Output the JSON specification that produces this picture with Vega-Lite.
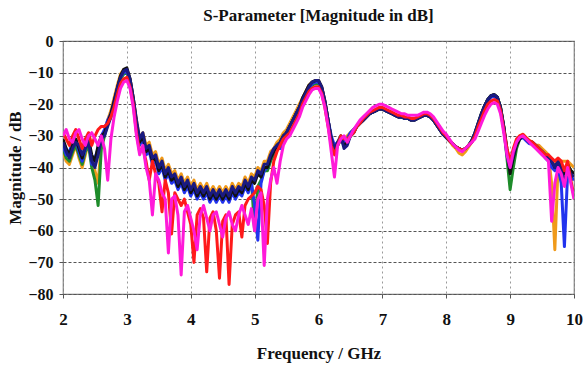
{
"$schema":"https://vega.github.io/schema/vega-lite/v6.json",
"autosize":"none",
"width":511,"height":253,
"padding":{"left":63,"top":41,"right":10,"bottom":76},
"background":"white",
"title":{"text":"S-Parameter [Magnitude in dB]","font":"Liberation Serif","fontSize":17,"fontWeight":"bold","color":"#111","offset":8,"anchor":"middle"},
"config":{"view":{"stroke":"#777","strokeWidth":1.2},"axis":{"labelFont":"Liberation Serif","titleFont":"Liberation Serif","labelFontWeight":"bold","titleFontWeight":"bold","labelColor":"#111","titleColor":"#111","labelFontSize":17,"titleFontSize":17}},
"data":{"values":[
{"f":2.00,"k":-31,"n":-32,"b":-33,"g":-34,"o":-35,"r":-29,"m":-30},
{"f":2.05,"k":-34,"n":-35,"b":-36,"g":-37,"o":-38,"r":-31,"m":-28},
{"f":2.10,"k":-36,"n":-37,"b":-35,"g":-38,"o":-39,"r":-33,"m":-31},
{"f":2.15,"k":-33,"n":-34,"b":-32,"g":-35,"o":-36,"r":-30,"m":-32},
{"f":2.20,"k":-31,"n":-32,"b":-31,"g":-33,"o":-33,"r":-28,"m":-29},
{"f":2.25,"k":-34,"n":-33,"b":-35,"g":-36,"o":-37,"r":-31,"m":-28},
{"f":2.30,"k":-37,"n":-36,"b":-38,"g":-39,"o":-40,"r":-34,"m":-31},
{"f":2.35,"k":-33,"n":-34,"b":-34,"g":-35,"o":-36,"r":-31,"m":-33},
{"f":2.40,"k":-31,"n":-32,"b":-30,"g":-33,"o":-32,"r":-29,"m":-30},
{"f":2.45,"k":-36,"n":-38,"b":-39,"g":-40,"o":-37,"r":-33,"m":-29},
{"f":2.50,"k":-38,"n":-40,"b":-37,"g":-44,"o":-41,"r":-30,"m":-31},
{"f":2.55,"k":-33,"n":-36,"b":-34,"g":-52,"o":-45,"r":-28,"m":-33},
{"f":2.60,"k":-30,"n":-31,"b":-30,"g":-34,"o":-32,"r":-27,"m":-30},
{"f":2.65,"k":-29,"n":-30,"b":-28,"g":-30,"o":-29,"r":-27,"m":-34},
{"f":2.70,"k":-26,"n":-27,"b":-25,"g":-26,"o":-25,"r":-26,"m":-44},
{"f":2.75,"k":-23,"n":-24,"b":-23,"g":-24,"o":-22,"r":-24,"m":-31},
{"f":2.80,"k":-19,"n":-20,"b":-19,"g":-20,"o":-18,"r":-21,"m":-24},
{"f":2.85,"k":-15,"n":-15,"b":-15,"g":-16,"o":-14,"r":-17,"m":-19},
{"f":2.90,"k":-11,"n":-11.5,"b":-11.5,"g":-12,"o":-10.5,"r":-13.5,"m":-15},
{"f":2.95,"k":-9,"n":-9.5,"b":-10,"g":-10.5,"o":-9,"r":-12,"m":-13},
{"f":3.00,"k":-8.5,"n":-9,"b":-9.5,"g":-10,"o":-9,"r":-11.5,"m":-12.5},
{"f":3.05,"k":-12,"n":-12,"b":-13,"g":-13,"o":-12,"r":-14.5,"m":-15},
{"f":3.10,"k":-18,"n":-18,"b":-19,"g":-19,"o":-18,"r":-20,"m":-21},
{"f":3.15,"k":-26,"n":-25,"b":-27,"g":-26,"o":-25,"r":-29,"m":-30},
{"f":3.20,"k":-32,"n":-31,"b":-33,"g":-32,"o":-31,"r":-35,"m":-36},
{"f":3.25,"k":-30,"n":-29,"b":-31,"g":-30,"o":-29,"r":-34,"m":-33},
{"f":3.30,"k":-35,"n":-34,"b":-36,"g":-35,"o":-33,"r":-38,"m":-40},
{"f":3.35,"k":-34,"n":-33,"b":-35,"g":-34,"o":-32,"r":-44,"m":-44},
{"f":3.40,"k":-38,"n":-37,"b":-39,"g":-38,"o":-36,"r":-38,"m":-55},
{"f":3.45,"k":-37,"n":-36,"b":-38,"g":-37,"o":-35,"r":-42,"m":-42},
{"f":3.50,"k":-41,"n":-40,"b":-42,"g":-41,"o":-39,"r":-45,"m":-44},
{"f":3.55,"k":-39,"n":-38,"b":-40,"g":-39,"o":-37,"r":-54,"m":-48},
{"f":3.60,"k":-43,"n":-42,"b":-44,"g":-43,"o":-41,"r":-44,"m":-50},
{"f":3.65,"k":-41,"n":-40,"b":-42,"g":-41,"o":-39,"r":-48,"m":-67},
{"f":3.70,"k":-44,"n":-43,"b":-45,"g":-44,"o":-42,"r":-61,"m":-50},
{"f":3.75,"k":-43,"n":-42,"b":-44,"g":-43,"o":-41,"r":-48,"m":-49},
{"f":3.80,"k":-46,"n":-45,"b":-47,"g":-46,"o":-44,"r":-50,"m":-55},
{"f":3.85,"k":-44,"n":-43,"b":-45,"g":-44,"o":-42,"r":-52,"m":-74},
{"f":3.90,"k":-47,"n":-46,"b":-48,"g":-47,"o":-45,"r":-50,"m":-54},
{"f":3.95,"k":-45,"n":-44,"b":-46,"g":-45,"o":-43,"r":-54,"m":-52},
{"f":4.00,"k":-48,"n":-47,"b":-49,"g":-48,"o":-46,"r":-58,"m":-56},
{"f":4.05,"k":-46,"n":-45,"b":-47,"g":-46,"o":-44,"r":-70,"m":-60},
{"f":4.10,"k":-49,"n":-48,"b":-50,"g":-49,"o":-47,"r":-55,"m":-66},
{"f":4.15,"k":-47,"n":-46,"b":-48,"g":-47,"o":-45,"r":-53,"m":-55},
{"f":4.20,"k":-49,"n":-48,"b":-50,"g":-49,"o":-47,"r":-56,"m":-52},
{"f":4.25,"k":-47,"n":-46,"b":-48,"g":-47,"o":-45,"r":-73,"m":-56},
{"f":4.30,"k":-50,"n":-49,"b":-51,"g":-50,"o":-48,"r":-56,"m":-60},
{"f":4.35,"k":-48,"n":-47,"b":-49,"g":-48,"o":-46,"r":-54,"m":-55},
{"f":4.40,"k":-50,"n":-49,"b":-51,"g":-50,"o":-48,"r":-60,"m":-54},
{"f":4.45,"k":-48,"n":-47,"b":-49,"g":-48,"o":-46,"r":-75,"m":-58},
{"f":4.50,"k":-50,"n":-49,"b":-51,"g":-50,"o":-48,"r":-57,"m":-62},
{"f":4.55,"k":-48,"n":-47,"b":-49,"g":-48,"o":-46,"r":-55,"m":-56},
{"f":4.60,"k":-50,"n":-49,"b":-51,"g":-50,"o":-48,"r":-77,"m":-54},
{"f":4.65,"k":-47,"n":-46,"b":-48,"g":-47,"o":-45,"r":-58,"m":-58},
{"f":4.70,"k":-49,"n":-48,"b":-50,"g":-49,"o":-47,"r":-55,"m":-60},
{"f":4.75,"k":-47,"n":-46,"b":-48,"g":-47,"o":-45,"r":-54,"m":-55},
{"f":4.80,"k":-48,"n":-47,"b":-49,"g":-48,"o":-46,"r":-62,"m":-52},
{"f":4.85,"k":-45,"n":-44,"b":-46,"g":-45,"o":-43,"r":-52,"m":-55},
{"f":4.90,"k":-47,"n":-46,"b":-48,"g":-47,"o":-45,"r":-50,"m":-58},
{"f":4.95,"k":-44,"n":-43,"b":-45,"g":-44,"o":-42,"r":-49,"m":-53},
{"f":5.00,"k":-45,"n":-44,"b":-52,"g":-60,"o":-43,"r":-48,"m":-60},
{"f":5.05,"k":-42,"n":-41,"b":-63,"g":-46,"o":-40,"r":-46,"m":-50},
{"f":5.10,"k":-43,"n":-42,"b":-45,"g":-44,"o":-41,"r":-47,"m":-48},
{"f":5.15,"k":-40,"n":-39,"b":-41,"g":-41,"o":-38,"r":-52,"m":-71},
{"f":5.20,"k":-40,"n":-39,"b":-40,"g":-41,"o":-38,"r":-64,"m":-50},
{"f":5.25,"k":-37,"n":-36,"b":-37,"g":-38,"o":-35,"r":-45,"m":-44},
{"f":5.30,"k":-35,"n":-34,"b":-35,"g":-36,"o":-34,"r":-38,"m":-40},
{"f":5.35,"k":-33,"n":-33,"b":-34,"g":-34,"o":-32,"r":-35,"m":-45},
{"f":5.40,"k":-32,"n":-32,"b":-34,"g":-33,"o":-31,"r":-33,"m":-38},
{"f":5.45,"k":-30,"n":-30,"b":-31,"g":-31,"o":-29,"r":-31,"m":-33},
{"f":5.50,"k":-29,"n":-29,"b":-29,"g":-29,"o":-28,"r":-30,"m":-31},
{"f":5.55,"k":-27,"n":-27,"b":-27,"g":-27,"o":-26,"r":-29,"m":-30},
{"f":5.60,"k":-25,"n":-25,"b":-25,"g":-25,"o":-24,"r":-27,"m":-28},
{"f":5.65,"k":-23,"n":-23,"b":-23,"g":-23,"o":-22,"r":-25,"m":-26},
{"f":5.70,"k":-21,"n":-21,"b":-21,"g":-21,"o":-20,"r":-23,"m":-24},
{"f":5.75,"k":-18,"n":-18.5,"b":-19,"g":-19,"o":-18,"r":-20,"m":-21},
{"f":5.80,"k":-16,"n":-16.5,"b":-17,"g":-17,"o":-16,"r":-18,"m":-19},
{"f":5.85,"k":-14,"n":-14.5,"b":-15,"g":-15,"o":-14,"r":-16,"m":-17},
{"f":5.90,"k":-13,"n":-13,"b":-13.5,"g":-14,"o":-13,"r":-15,"m":-15.5},
{"f":5.95,"k":-12.5,"n":-12.5,"b":-13,"g":-13.5,"o":-12.5,"r":-14.5,"m":-15},
{"f":6.00,"k":-12.5,"n":-12.5,"b":-13,"g":-13.5,"o":-12.5,"r":-14.5,"m":-15},
{"f":6.05,"k":-14.5,"n":-14.5,"b":-15,"g":-15.5,"o":-14.5,"r":-16.5,"m":-17},
{"f":6.10,"k":-19,"n":-19,"b":-19.5,"g":-20,"o":-19,"r":-21,"m":-21},
{"f":6.15,"k":-25,"n":-25,"b":-25,"g":-26,"o":-25,"r":-27,"m":-27},
{"f":6.20,"k":-31,"n":-31,"b":-30,"g":-32,"o":-31,"r":-33,"m":-35},
{"f":6.25,"k":-35,"n":-34,"b":-33,"g":-35,"o":-34,"r":-36,"m":-43},
{"f":6.30,"k":-33,"n":-32,"b":-32,"g":-33,"o":-32,"r":-33,"m":-33},
{"f":6.35,"k":-31,"n":-30,"b":-31,"g":-31,"o":-30,"r":-30,"m":-31},
{"f":6.40,"k":-33,"n":-34,"b":-32,"g":-32,"o":-31,"r":-31,"m":-30},
{"f":6.45,"k":-32,"n":-33,"b":-31,"g":-31,"o":-30,"r":-31,"m":-32},
{"f":6.50,"k":-30,"n":-30,"b":-29,"g":-29,"o":-29,"r":-30,"m":-30},
{"f":6.55,"k":-29,"n":-29,"b":-28,"g":-28,"o":-28,"r":-29,"m":-28},
{"f":6.60,"k":-27,"n":-27,"b":-27,"g":-27,"o":-27,"r":-27,"m":-26.5},
{"f":6.65,"k":-26,"n":-26,"b":-26,"g":-26,"o":-26,"r":-26,"m":-25},
{"f":6.70,"k":-25,"n":-25,"b":-25,"g":-25,"o":-25,"r":-24.5,"m":-24},
{"f":6.75,"k":-24,"n":-24,"b":-24,"g":-24,"o":-24,"r":-23.5,"m":-23},
{"f":6.80,"k":-23,"n":-23,"b":-23,"g":-23,"o":-23,"r":-22.5,"m":-22},
{"f":6.85,"k":-22.5,"n":-22.5,"b":-22.5,"g":-22.5,"o":-22.5,"r":-22,"m":-21},
{"f":6.90,"k":-22,"n":-22,"b":-22,"g":-22,"o":-22,"r":-21.5,"m":-20.5},
{"f":6.95,"k":-21.5,"n":-21.5,"b":-21.5,"g":-21.5,"o":-21.5,"r":-21,"m":-20},
{"f":7.00,"k":-21.5,"n":-21.5,"b":-21.5,"g":-21.5,"o":-21.5,"r":-21,"m":-20},
{"f":7.05,"k":-22,"n":-22,"b":-22,"g":-22,"o":-22,"r":-21.5,"m":-20.5},
{"f":7.10,"k":-22.5,"n":-22.5,"b":-22.5,"g":-22.5,"o":-22.5,"r":-22,"m":-21},
{"f":7.15,"k":-23,"n":-23,"b":-23,"g":-23,"o":-23,"r":-22.5,"m":-21.5},
{"f":7.20,"k":-23.5,"n":-23.5,"b":-23.5,"g":-23.5,"o":-23.5,"r":-23,"m":-22},
{"f":7.25,"k":-24,"n":-24,"b":-24,"g":-24,"o":-24,"r":-23.5,"m":-22.5},
{"f":7.30,"k":-24,"n":-24,"b":-24,"g":-24,"o":-24,"r":-23.5,"m":-23},
{"f":7.35,"k":-24.5,"n":-24.5,"b":-24.5,"g":-24.5,"o":-24.5,"r":-24,"m":-23},
{"f":7.40,"k":-24.5,"n":-24.5,"b":-24.5,"g":-24.5,"o":-24.5,"r":-24,"m":-23.5},
{"f":7.45,"k":-25,"n":-25,"b":-25,"g":-25,"o":-25,"r":-24.5,"m":-23.5},
{"f":7.50,"k":-25,"n":-25,"b":-25,"g":-25,"o":-25,"r":-24.5,"m":-23.5},
{"f":7.55,"k":-24.5,"n":-24.5,"b":-24.5,"g":-24.5,"o":-24.5,"r":-24,"m":-23.5},
{"f":7.60,"k":-24,"n":-24,"b":-24,"g":-24,"o":-24,"r":-23.5,"m":-23},
{"f":7.65,"k":-23.5,"n":-23.5,"b":-23.5,"g":-23.5,"o":-23.5,"r":-23,"m":-22.5},
{"f":7.70,"k":-23.5,"n":-23.5,"b":-23.5,"g":-23.5,"o":-23.5,"r":-23,"m":-22.5},
{"f":7.75,"k":-24,"n":-24,"b":-24,"g":-24,"o":-24,"r":-23.5,"m":-23},
{"f":7.80,"k":-25,"n":-25,"b":-25,"g":-25,"o":-25,"r":-24.5,"m":-24},
{"f":7.85,"k":-26.5,"n":-26.5,"b":-26.5,"g":-26.5,"o":-26.5,"r":-26,"m":-25.5},
{"f":7.90,"k":-28,"n":-28,"b":-28,"g":-28,"o":-28,"r":-27.5,"m":-27},
{"f":7.95,"k":-29.5,"n":-29.5,"b":-29.5,"g":-29.5,"o":-29.5,"r":-29,"m":-28.5},
{"f":8.00,"k":-30.5,"n":-30.5,"b":-30.5,"g":-30.5,"o":-30.5,"r":-30,"m":-29.5},
{"f":8.05,"k":-31.5,"n":-31.5,"b":-31.5,"g":-31.5,"o":-31.5,"r":-31.5,"m":-31},
{"f":8.10,"k":-32.5,"n":-32.5,"b":-32.5,"g":-32.5,"o":-33,"r":-32.5,"m":-32.5},
{"f":8.15,"k":-33.5,"n":-33.5,"b":-33.5,"g":-33.5,"o":-34,"r":-33.5,"m":-33.5},
{"f":8.20,"k":-34,"n":-34,"b":-34,"g":-34,"o":-35.5,"r":-34,"m":-34.5},
{"f":8.25,"k":-34.5,"n":-34.5,"b":-34.5,"g":-34.5,"o":-36,"r":-34.5,"m":-35},
{"f":8.30,"k":-34,"n":-34,"b":-34,"g":-34,"o":-35,"r":-34,"m":-34},
{"f":8.35,"k":-33,"n":-33,"b":-33,"g":-33,"o":-33.5,"r":-33,"m":-33},
{"f":8.40,"k":-31.5,"n":-31.5,"b":-32,"g":-31.5,"o":-32,"r":-32,"m":-32},
{"f":8.45,"k":-29,"n":-29,"b":-29.5,"g":-29,"o":-29.5,"r":-30,"m":-31},
{"f":8.50,"k":-26,"n":-26,"b":-26.5,"g":-26,"o":-26.5,"r":-27,"m":-28.5},
{"f":8.55,"k":-23,"n":-23,"b":-23.5,"g":-23,"o":-23.5,"r":-24.5,"m":-26},
{"f":8.60,"k":-20.5,"n":-20.5,"b":-21,"g":-20.5,"o":-20.5,"r":-22,"m":-23.5},
{"f":8.65,"k":-18.5,"n":-18.5,"b":-19,"g":-18.5,"o":-18.5,"r":-20,"m":-21.5},
{"f":8.70,"k":-17.3,"n":-17.3,"b":-17.8,"g":-17.3,"o":-17.3,"r":-19,"m":-20},
{"f":8.75,"k":-17,"n":-17,"b":-17.5,"g":-17,"o":-17,"r":-18.5,"m":-19.5},
{"f":8.80,"k":-17.8,"n":-17.8,"b":-18.3,"g":-17.8,"o":-17.8,"r":-19,"m":-20},
{"f":8.85,"k":-21,"n":-21,"b":-21.5,"g":-21,"o":-21,"r":-22,"m":-23},
{"f":8.90,"k":-27,"n":-27,"b":-27.5,"g":-27,"o":-27,"r":-28,"m":-29},
{"f":8.95,"k":-35,"n":-34,"b":-36,"g":-37,"o":-34,"r":-34,"m":-36},
{"f":9.00,"k":-42,"n":-40,"b":-41,"g":-47,"o":-39,"r":-38,"m":-40},
{"f":9.05,"k":-37,"n":-36,"b":-36,"g":-40,"o":-35,"r":-34,"m":-35},
{"f":9.10,"k":-33,"n":-32,"b":-32,"g":-34,"o":-32,"r":-31,"m":-32},
{"f":9.15,"k":-31,"n":-30.5,"b":-31,"g":-31,"o":-30,"r":-30,"m":-30.5},
{"f":9.20,"k":-30,"n":-30,"b":-30.5,"g":-30,"o":-29.5,"r":-29.5,"m":-30},
{"f":9.25,"k":-31,"n":-31,"b":-31.5,"g":-31,"o":-30.5,"r":-30.5,"m":-31},
{"f":9.30,"k":-32,"n":-32,"b":-32.5,"g":-32,"o":-31.5,"r":-31.5,"m":-32},
{"f":9.35,"k":-32,"n":-32,"b":-32.5,"g":-32,"o":-32,"r":-32,"m":-33},
{"f":9.40,"k":-33,"n":-33,"b":-33.5,"g":-33,"o":-33,"r":-33,"m":-34},
{"f":9.45,"k":-34,"n":-34,"b":-34.5,"g":-34,"o":-33,"r":-34,"m":-35},
{"f":9.50,"k":-35,"n":-35,"b":-35.5,"g":-35,"o":-34,"r":-35,"m":-36},
{"f":9.55,"k":-36,"n":-36,"b":-37,"g":-36,"o":-35,"r":-36,"m":-37},
{"f":9.60,"k":-37,"n":-37,"b":-38,"g":-37,"o":-36,"r":-36,"m":-38},
{"f":9.65,"k":-38,"n":-38,"b":-40,"g":-38,"o":-45,"r":-37,"m":-57},
{"f":9.70,"k":-40,"n":-40,"b":-41,"g":-40,"o":-66,"r":-38,"m":-45},
{"f":9.75,"k":-38,"n":-38,"b":-40,"g":-38,"o":-40,"r":-37,"m":-40},
{"f":9.80,"k":-40,"n":-41,"b":-45,"g":-40,"o":-38,"r":-38,"m":-42},
{"f":9.85,"k":-42,"n":-45,"b":-65,"g":-42,"o":-38,"r":-41,"m":-46},
{"f":9.90,"k":-39,"n":-40,"b":-42,"g":-39,"o":-38,"r":-38,"m":-40},
{"f":9.95,"k":-41,"n":-42,"b":-43,"g":-41,"o":-39,"r":-44,"m":-45},
{"f":10.00,"k":-42,"n":-43,"b":-44,"g":-42,"o":-40,"r":-49,"m":-50}
]},
"transform":[{"fold":["o","g","b","k","n","r","m"],"as":["s","v"]}],
"mark":{"type":"line","strokeWidth":3,"clip":true,"strokeJoin":"round"},
"encoding":{
"x":{"field":"f","type":"quantitative","scale":{"domain":[2,10],"nice":false},
"axis":{"title":"Frequency / GHz","values":[2,3,4,5,6,7,8,9,10],"grid":true,"gridColor":"#999","gridDash":[2,3],"gridWidth":1,"domain":false,"tickColor":"#555","tickSize":4,"labelPadding":13,"titlePadding":18,"labelFlush":false}},
"y":{"field":"v","type":"quantitative","scale":{"domain":[-80,0],"nice":false},
"axis":{"title":"Magnitude / dB","values":[-80,-70,-60,-50,-40,-30,-20,-10,0],"grid":true,"gridColor":"#555","gridDash":[3,2],"gridWidth":1.2,"domain":false,"tickColor":"#555","tickSize":4,"labelPadding":6,"labelFontSize":16,"titlePadding":3,"labelFlush":false}},
"color":{"field":"s","type":"nominal","legend":null,
"scale":{"domain":["o","g","b","k","n","r","m"],"range":["#f09a1a","#1e8c2a","#2233ee","#111111","#1a1a80","#ff1a1a","#ff1ad9"]}},
"order":{"field":"s","type":"nominal"}
}
}
